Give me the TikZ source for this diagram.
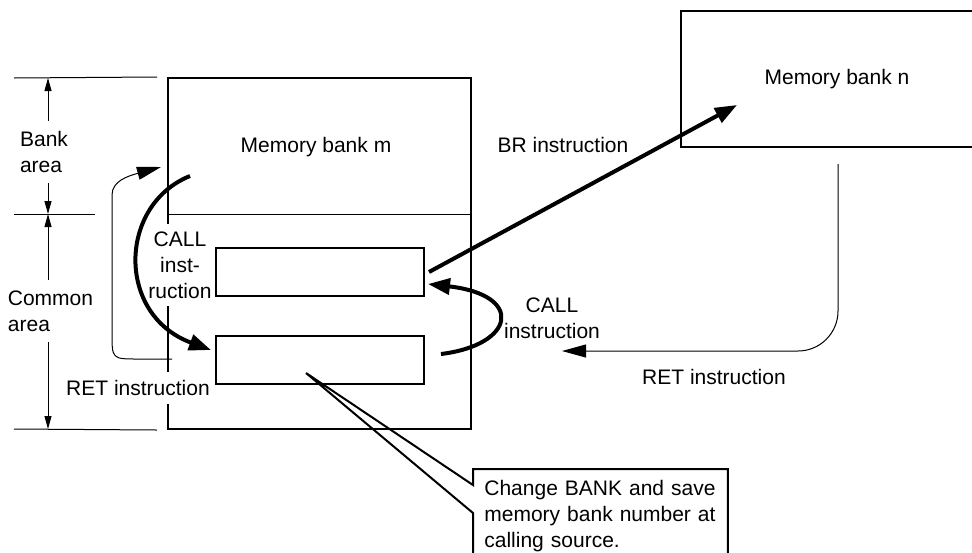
\documentclass[tikz,border=0pt]{standalone}
\usepackage{fontspec}
\setmainfont{Liberation Sans}
\usetikzlibrary{arrows.meta,calc}
\tikzset{
  base/.style={font=\fontsize{10.5}{13}\selectfont,align=center,inner sep=3pt},
  bank/.style={draw,line width=1pt,inner sep=0pt},
  slot/.style={draw,line width=1pt,minimum width=104pt,minimum height=24pt,inner sep=0pt},
  txt/.style={base},
  cut/.style={base,fill=white,inner sep=4pt},
  ext/.style={line width=0.5pt},
  dim/.style={line width=0.5pt,-{Triangle[length=6.5pt,width=3.5pt]}},
  flow/.style={line width=2pt,-{Triangle[length=11pt,width=8pt]}},
  back/.style={line width=0.5pt,-{Triangle[length=12pt,width=6.5pt]}},
  callout/.style={draw,line width=1pt,line join=miter}
}

\begin{document}
\begin{tikzpicture}[x=0.5pt,y=-0.5pt]
\useasboundingbox (0,0) rectangle (972,552);
\clip (0,0) rectangle (972,552);

\node[bank,minimum width=151.5pt,minimum height=175.5pt] (bankm) at (319.5,253.5) {};
\node[txt] (mlabel) at (316,147) {Memory bank m};
\coordinate (divy) at (0,214);
\draw[ext] (bankm.west |- divy) -- (bankm.east |- divy);

\coordinate (dtop) at (48,78);
\coordinate (dmid) at (48,214);
\coordinate (dbot) at (48,429);
\draw[ext] ([xshift=-17pt]dtop) -- ([xshift=-5pt]bankm.north west);
\draw[ext] ([xshift=-17pt]dmid) -- ([xshift=23.5pt]dmid);
\draw[ext] ([xshift=-17pt]dbot) -- ([xshift=-5pt]bankm.south west);
\node[txt,align=left,inner ysep=5pt] (bankarea) at (44,152) {Bank\\area};
\node[txt,align=left,inner ysep=5pt] (commonarea) at (50.5,311) {Common\\area};
\draw[dim] (bankarea.north -| dtop) -- (dtop);
\draw[dim] (bankarea.south -| dtop) -- (dmid);
\draw[dim] (commonarea.north -| dtop) -- (dmid);
\draw[dim] (commonarea.south -| dtop) -- (dbot);

\node[cut] (callleft) at (180,265) {CALL\\inst-\\ruction};
\node[cut] (retleft) at (138,388) {RET instruction};
\node[slot] (upslot) at (320,272) {};
\node[slot] (lowslot) at (320,360) {};

\node[bank,base,minimum width=156pt,minimum height=68pt] (bankn) at (837,79) {Memory bank n};
\coordinate (brtip) at ($(bankn.west)+(57,26)$);
\coordinate (rettip) at (562,351);

\draw[flow] ($(bankm.north west)+(23,99)$) .. controls (118,205) and (116,315) .. ($(lowslot.west)+(-4,-10)$);
\draw[flow] ($(lowslot.east)+(16,-6)$) .. controls (515,345) and (525,295) .. ($(upslot.east)+(3,12)$);
\draw[flow] ($(upslot.east)+(4,0)$) -- (brtip);
\draw[back] ($(lowslot.west)+(-43,-1)$) -- (138,359) .. controls (112,359) .. (112,333) -- (112,195) .. controls (112,181) and (128,176) .. ($(bankm.north west)+(-6,90)$);
\draw[back,rounded corners=20pt] ($(bankn.south)+(1,16)$) -- (838,351) -- (rettip);

\node[txt] (brlabel) at (563,145) {BR instruction};
\node[txt] (callright) at (552,318) {CALL\\instruction};
\node[txt] (retright) at (714,377) {RET instruction};

\node[txt,align=left,anchor=north west,minimum width=127pt,text width=116pt,inner sep=5.5pt] (note) at (473,469) {Change BANK and save\\memory bank number at\\calling source.};
\coordinate (notetip) at ($(lowslot.center)+(-14,13)$);
\draw[callout] (notetip) -- ($(note.north west)+(0,16)$) -- (note.north west) -- (note.north east) -- (note.south east) -- (note.south west) -- ($(note.north west)+(0,44)$) -- cycle;
\end{tikzpicture}
\end{document}
